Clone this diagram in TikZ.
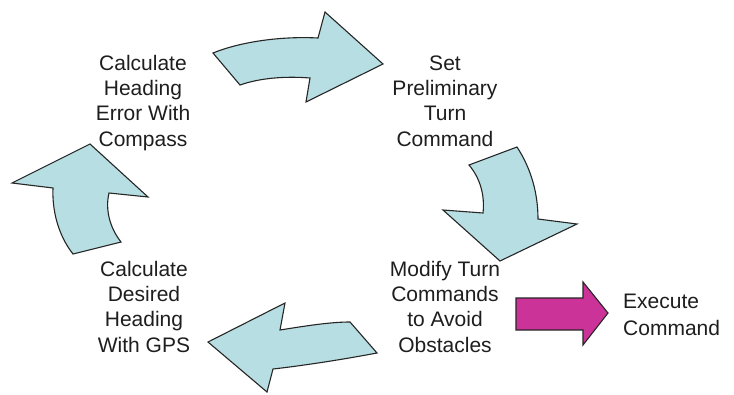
\documentclass[tikz,border=0pt]{standalone}
\usepackage{fontspec}
\setmainfont{Liberation Sans}
\definecolor{arrowfill}{HTML}{B7DEE2}
\definecolor{execfill}{HTML}{CC3399}
\definecolor{inktext}{HTML}{1E1E1E}
\begin{document}
\begin{tikzpicture}[x=1pt,y=-1pt,
  cyclearrow/.style={fill=arrowfill,draw=black!85,line width=1.1pt,line join=miter},
  execarrow/.style={fill=execfill,draw=black!85,line width=1.1pt,line join=miter},
  steptext/.style={align=center,inner sep=0pt,anchor=base,text=inktext,
    font=\fontsize{21}{25.3}\selectfont},
  lefttext/.style={align=left,inner sep=0pt,anchor=base west,text=inktext,
    font=\fontsize{21}{27}\selectfont}]
\useasboundingbox[fill=white] (0,0) rectangle (734,394);

% step labels (anchored at the baseline of their last line)
\node[steptext] (heading) at (143,146) {Calculate\\Heading\\Error With\\Compass};
\node[steptext] (turn) at (445,146) {Set\\Preliminary\\Turn\\Command};
\node[steptext] (modify) at (445,352) {Modify Turn\\Commands\\to Avoid\\Obstacles};
\node[steptext] (gps) at (144,352) {Calculate\\Desired\\Heading\\With GPS};
\node[lefttext] (exec) at (623,335) {Execute\\Command};

% curved block arrows of the cycle
\draw[cyclearrow] (213,53) .. controls (240,42) and (280,36) .. (318,38)
  -- (325,12) -- (383,64) -- (306,102) -- (310,78)
  .. controls (285,76) and (260,78) .. (240,85) -- cycle;
\draw[cyclearrow] (469,165) -- (517,147)
  .. controls (532,170) and (538,195) .. (538,219)
  -- (577,224) -- (500,261) -- (443,210) -- (483,213)
  .. controls (485,195) and (480,178) .. (469,165) -- cycle;
\draw[cyclearrow] (350,322) -- (377,353)
  .. controls (340,360) and (300,366) .. (273,369)
  -- (267,392) -- (208,342) -- (285,303) -- (280,330)
  .. controls (305,326) and (330,322) .. (350,322) -- cycle;
\draw[cyclearrow] (12,183) -- (90,144) -- (148,197) -- (109,193)
  .. controls (105,210) and (110,228) .. (121,242)
  -- (73,254) .. controls (58,235) and (52,210) .. (53,188) -- cycle;

% output arrow
\draw[execarrow] (516,298) -- (583,298) -- (583,282) -- (608,313)
  -- (583,345) -- (583,330) -- (516,330) -- cycle;
\end{tikzpicture}
\end{document}
